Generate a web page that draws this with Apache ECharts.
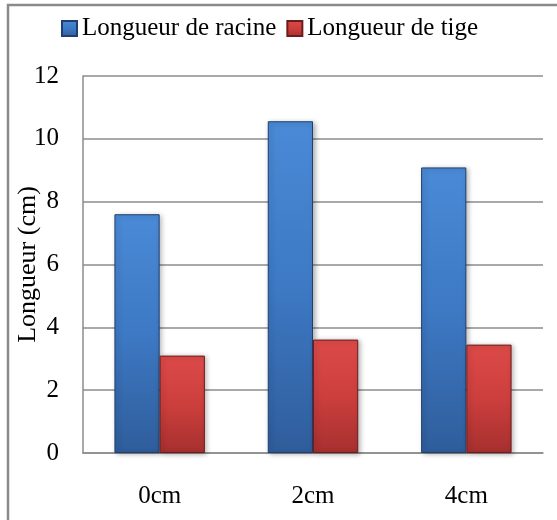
<!DOCTYPE html>
<html>
<head>
<meta charset="utf-8">
<script src="https://cdn.jsdelivr.net/npm/echarts@6/dist/echarts.min.js"></script>
<style>
html,body{margin:0;padding:0;background:#fff;}
#chart{width:557px;height:520px;}
</style>
</head>
<body>
<div id="chart"></div>
<script>
var categories = ['0cm', '2cm', '4cm'];
var racine = [7.6, 10.56, 9.09];
var tige = [3.1, 3.61, 3.45];
var seriesNames = ['Longueur de racine', 'Longueur de tige'];
var yAxisName = 'Longueur (cm)';

var FONT = '"Liberation Serif", "Times New Roman", serif';
var chart = echarts.init(document.getElementById('chart'));

function grad(top, mid, bottom) {
  return new echarts.graphic.LinearGradient(0, 0, 0, 1, [
    {offset: 0, color: top}, {offset: 0.5, color: mid}, {offset: 1, color: bottom}
  ]);
}

chart.setOption({
  animation: false,
  backgroundColor: '#fff',
  graphic: [{
    type: 'rect',
    shape: {x: 8, y: 5, width: 700, height: 700},
    style: {fill: 'none', stroke: '#8a8a8a', lineWidth: 2.5},
    z: 100
  }],
  legend: {
    left: 56,
    top: 11,
    icon: 'rect',
    itemWidth: 15,
    itemHeight: 15,
    itemGap: 10,
    textStyle: {fontFamily: FONT, fontSize: 25, color: '#000'},
    data: seriesNames
  },
  grid: {left: 83, right: 14, top: 76, bottom: 67, containLabel: false, outerBoundsMode: 'none'},
  xAxis: {
    type: 'category',
    data: categories,
    axisLine: {show: true, lineStyle: {color: '#8c8c8c', width: 1.5}},
    axisTick: {show: false},
    axisLabel: {fontFamily: FONT, fontSize: 25, color: '#000', margin: 31}
  },
  yAxis: {
    type: 'value',
    min: 0, max: 12, interval: 2,
    name: yAxisName,
    nameLocation: 'middle',
    nameRotate: 90,
    nameGap: 42,
    nameMoveOverlap: false,
    nameTextStyle: {fontFamily: FONT, fontSize: 26, color: '#000'},
    axisLine: {show: true, lineStyle: {color: '#8c8c8c', width: 1.5}},
    axisTick: {show: false},
    axisLabel: {fontFamily: FONT, fontSize: 25, color: '#000', margin: 24},
    splitLine: {show: true, lineStyle: {color: '#8c8c8c', width: 1.5}}
  },
  series: [{
    name: seriesNames[0],
    type: 'bar',
    data: racine,
    barGap: '0%',
    barCategoryGap: '41%',
    itemStyle: {
      color: grad('#4a8ad6', '#3d79c4', '#2f5d9b'),
      borderColor: '#1f3f70',
      borderWidth: 1,
      shadowBlur: 5,
      shadowColor: 'rgba(0,0,0,0.3)',
      shadowOffsetX: 2,
      shadowOffsetY: 1
    }
  }, {
    name: seriesNames[1],
    type: 'bar',
    data: tige,
    itemStyle: {
      color: grad('#dc4a48', '#cc3f3d', '#a6302f'),
      borderColor: '#6e1c1b',
      borderWidth: 1,
      shadowBlur: 5,
      shadowColor: 'rgba(0,0,0,0.3)',
      shadowOffsetX: 2,
      shadowOffsetY: 1
    }
  }]
});
</script>
</body>
</html>
